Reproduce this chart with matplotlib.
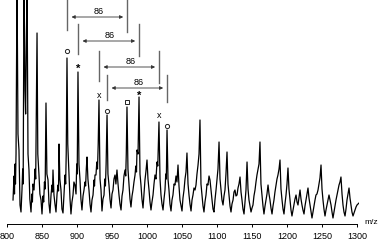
import matplotlib
matplotlib.use("Agg")
import matplotlib.pyplot as plt

# ---- data (m/z, relative intensity in arbitrary units) ----
mz = [808.6, 810.0, 810.7, 811.4, 812.1, 812.9, 814.3, 815.7, 817.1, 818.0,
      818.6, 820.0, 821.4, 822.4, 823.1, 824.3, 825.7, 826.6, 827.3, 828.6,
      830.0, 831.4, 832.6, 834.3, 835.5, 836.3, 837.1, 838.6, 840.0, 841.0,
      842.9, 844.0, 845.7, 847.0, 848.6, 850.0, 851.4, 852.4, 853.5, 854.5,
      855.7, 857.0, 858.6, 860.0, 861.4, 863.0, 864.3, 865.0, 865.7, 867.1,
      868.5, 870.0, 871.5, 872.9, 873.6, 874.3, 875.5, 877.1, 878.5, 880.0,
      881.5, 882.9, 883.8, 884.6, 885.7, 886.8, 888.6, 890.0, 891.4, 892.8,
      894.3, 895.6, 897.1, 898.6, 899.6, 900.3, 901.4, 902.8, 904.3, 905.6,
      907.1, 908.6, 910.0, 911.4, 912.3, 913.3, 914.3, 915.6, 917.1, 918.6,
      920.0, 921.4, 922.9, 924.3, 925.0, 925.7, 927.1, 928.3, 929.3, 930.3,
      931.4, 932.9, 934.3, 935.7, 937.1, 938.6, 939.6, 940.6, 941.6, 942.9,
      944.2, 945.7, 947.1, 948.6, 950.0, 951.4, 952.8, 954.3, 955.6, 957.1,
      958.6, 960.0, 961.4, 962.9, 964.3, 965.7, 967.1, 968.6, 969.6, 970.4,
      971.4, 972.8, 974.3, 975.7, 977.1, 978.6, 980.0, 981.4, 982.9, 984.0,
      985.0, 985.7, 987.2, 988.6, 990.0, 991.4, 992.8, 994.3, 995.7, 997.1,
      998.4, 1000.0, 1001.4, 1002.9, 1004.3, 1005.7, 1007.1, 1008.6, 1010.0, 1011.4,
      1012.8, 1014.3, 1015.4, 1017.1, 1018.6, 1020.0, 1021.4, 1022.9, 1024.3, 1025.7,
      1026.8, 1027.6, 1028.6, 1030.0, 1031.4, 1032.8, 1034.3, 1035.7, 1037.1, 1038.6,
      1040.0, 1041.4, 1042.8, 1044.3, 1045.7, 1047.1, 1048.6, 1050.0, 1051.4, 1052.9,
      1054.3, 1055.7, 1057.1, 1058.6, 1060.0, 1061.4, 1062.9, 1064.3, 1065.7, 1067.1,
      1068.6, 1070.0, 1071.4, 1072.9, 1074.3, 1075.7, 1077.1, 1078.6, 1080.0, 1081.4,
      1082.8, 1084.3, 1085.7, 1087.1, 1088.6, 1090.0, 1091.4, 1092.9, 1094.3, 1095.7,
      1097.1, 1098.6, 1100.0, 1101.4, 1102.9, 1104.3, 1105.7, 1107.1, 1108.6, 1110.0,
      1111.4, 1112.8, 1114.3, 1115.7, 1117.1, 1118.6, 1120.0, 1121.4, 1122.9, 1124.3,
      1125.7, 1127.1, 1128.6, 1130.0, 1131.4, 1132.9, 1134.3, 1135.7, 1137.1, 1138.6,
      1140.0, 1141.4, 1142.9, 1144.3, 1145.7, 1147.1, 1148.6, 1150.0, 1151.4, 1152.8,
      1154.3, 1155.7, 1157.1, 1158.6, 1160.0, 1161.4, 1162.8, 1164.3, 1165.7, 1167.1,
      1168.6, 1170.0, 1171.4, 1172.9, 1174.3, 1175.7, 1177.1, 1178.6, 1180.0, 1181.4,
      1182.8, 1184.3, 1185.7, 1187.1, 1188.6, 1190.0, 1191.4, 1192.9, 1194.3, 1195.7,
      1197.1, 1198.6, 1200.0, 1201.4, 1202.8, 1204.3, 1205.7, 1207.1, 1208.6, 1210.0,
      1211.4, 1212.9, 1214.3, 1215.7, 1217.1, 1218.6, 1220.0, 1221.4, 1222.8, 1224.3,
      1225.7, 1227.1, 1228.6, 1230.0, 1231.4, 1232.9, 1234.3, 1235.7, 1237.1, 1238.6,
      1240.0, 1241.4, 1242.8, 1244.3, 1245.7, 1247.1, 1248.6, 1250.0, 1251.4, 1252.8,
      1254.3, 1255.7, 1257.1, 1258.6, 1260.0, 1261.4, 1262.9, 1264.3, 1265.7, 1267.1,
      1268.6, 1270.0, 1271.4, 1272.8, 1274.3, 1275.7, 1277.1, 1278.6, 1280.0, 1281.4,
      1282.9, 1284.3, 1285.7, 1287.1, 1288.6, 1290.0, 1291.4, 1292.8, 1294.3, 1295.7,
      1297.1, 1298.6, 1300.0, 1302.9]
intensity = [24, 48, 30, 60, 40, 70, 244, 90, 74, 40,
             19, 12, 34, 55, 40, 244, 134, 110, 160, 244,
             70, 54, 25, 12, 30, 22, 40, 34, 55, 45,
             191, 70, 49, 30, 24, 10, 28, 22, 42, 35,
             121, 50, 44, 20, 11, 30, 39, 32, 54, 29,
             20, 12, 30, 39, 33, 80, 45, 34, 15, 11,
             30, 49, 40, 70, 166, 80, 49, 25, 10, 22,
             29, 42, 39, 30, 60, 50, 152, 60, 44, 25,
             14, 28, 34, 42, 38, 55, 67, 45, 34, 20,
             12, 24, 29, 44, 38, 49, 49, 62, 55, 80,
             124, 45, 34, 13, 25, 29, 45, 38, 60, 109,
             50, 39, 25, 16, 30, 34, 45, 49, 40, 54,
             40, 29, 20, 14, 28, 34, 48, 54, 48, 70,
             117, 55, 39, 25, 17, 28, 34, 42, 49, 58,
             52, 74, 70, 127, 50, 39, 25, 16, 30, 44,
             52, 64, 45, 34, 22, 14, 22, 29, 40, 49,
             45, 62, 58, 102, 45, 29, 20, 14, 25, 34,
             50, 45, 94, 45, 34, 20, 13, 24, 29, 40,
             39, 48, 42, 59, 38, 24, 18, 13, 26, 34,
             45, 52, 71, 40, 29, 20, 13, 24, 29, 36,
             34, 39, 50, 59, 70, 104, 40, 29, 18, 12,
             22, 29, 40, 39, 48, 44, 34, 24, 15, 12,
             24, 34, 45, 55, 82, 45, 34, 24, 19, 28,
             34, 50, 72, 40, 29, 18, 12, 20, 24, 32,
             34, 28, 29, 36, 40, 47, 32, 24, 15, 10,
             22, 34, 62, 35, 24, 18, 12, 16, 19, 28,
             34, 42, 49, 55, 60, 82, 40, 29, 18, 10,
             18, 24, 30, 39, 30, 24, 16, 10, 18, 24,
             32, 39, 45, 49, 55, 64, 35, 24, 15, 10,
             20, 29, 40, 56, 35, 24, 14, 8, 14, 19,
             25, 29, 22, 19, 26, 34, 25, 19, 14, 10,
             18, 24, 30, 36, 26, 19, 12, 6, 12, 19,
             24, 29, 30, 34, 40, 46, 59, 35, 24, 15,
             8, 14, 19, 24, 29, 24, 19, 12, 6, 12,
             19, 24, 29, 34, 39, 42, 47, 30, 19, 12,
             8, 15, 24, 30, 36, 26, 19, 12, 8, 11,
             14, 17, 19, 21]

# labelled peaks: symbol, m/z, height of symbol
mark_symbols = ["o", "*", "x", "o", "s", "*", "x", "o"]
mark_mz = [885.7, 901.4, 931.4, 942.9, 971.4, 988.6, 1017.1, 1028.6]
mark_y = [173, 158, 127, 113, 122, 131, 107, 98]

# 86 Da spacing brackets: start m/z, end m/z, bracket line bottom/top, arrow level
delta_label = "86"
br_start = [885.7, 901.4, 931.4, 942.9]
br_end = [971.5, 988.6, 1017.1, 1028.6]
br_low = [194, 170, 143, 124]
br_high = [224, 200, 173, 149]
br_arrow = [207, 183, 157, 136]

xticks = [800, 850, 900, 950, 1000, 1050, 1100, 1150, 1200, 1250, 1300]

# ---- figure ----
plt.rcParams["font.family"] = ["Liberation Sans", "DejaVu Sans"]
fig = plt.figure(figsize=(3.81, 2.41), dpi=100)
ax = fig.add_axes([7 / 381, 17 / 241, 352.1 / 381, 224 / 241])
ax.plot(mz, intensity, color="black", lw=0.9)
ax.set_xlim(800, 1303)
ax.set_ylim(0, 224)

for s, x, y in zip(mark_symbols, mark_mz, mark_y):
    if s in ("o", "s"):
        ax.plot(x, y, marker=s, ms=3.0, mfc="none", mec="#222222", mew=0.7, ls="none")
    elif s == "*":
        ax.text(x, y - 3, "*", fontsize=8, ha="center", va="center", fontweight="bold")
    else:
        ax.text(x, y + 1, "x", fontsize=6.5, ha="center", va="center")

for x0, x1, lo, hi, ya in zip(br_start, br_end, br_low, br_high, br_arrow):
    ax.plot([x0, x0], [lo, hi], color="#666666", lw=1.0, clip_on=False)
    ax.plot([x1, x1], [lo - 2, hi], color="#666666", lw=1.0, clip_on=False)
    ax.annotate("", xy=(x1 - 5.5, ya), xytext=(x0 + 6.5, ya),
                arrowprops=dict(arrowstyle="<|-|>", color="#333333", lw=0.6,
                                mutation_scale=5, shrinkA=0, shrinkB=0))
    ax.text((x0 + x1) / 2 + 2, ya + 5.5, delta_label, ha="center", va="center", fontsize=6.5)

for side in ("left", "right", "top"):
    ax.spines[side].set_visible(False)
ax.spines["bottom"].set_bounds(800, 1300)
ax.spines["bottom"].set_linewidth(0.7)
ax.set_yticks([])
ax.set_xticks(xticks)
ax.tick_params(axis="x", direction="out", length=2.5, width=0.7, labelsize=6.5, pad=3)
ax.text(1310, 2, "m/z", fontsize=6, ha="left", va="center", clip_on=False)

fig.savefig("out.png", dpi=100)
